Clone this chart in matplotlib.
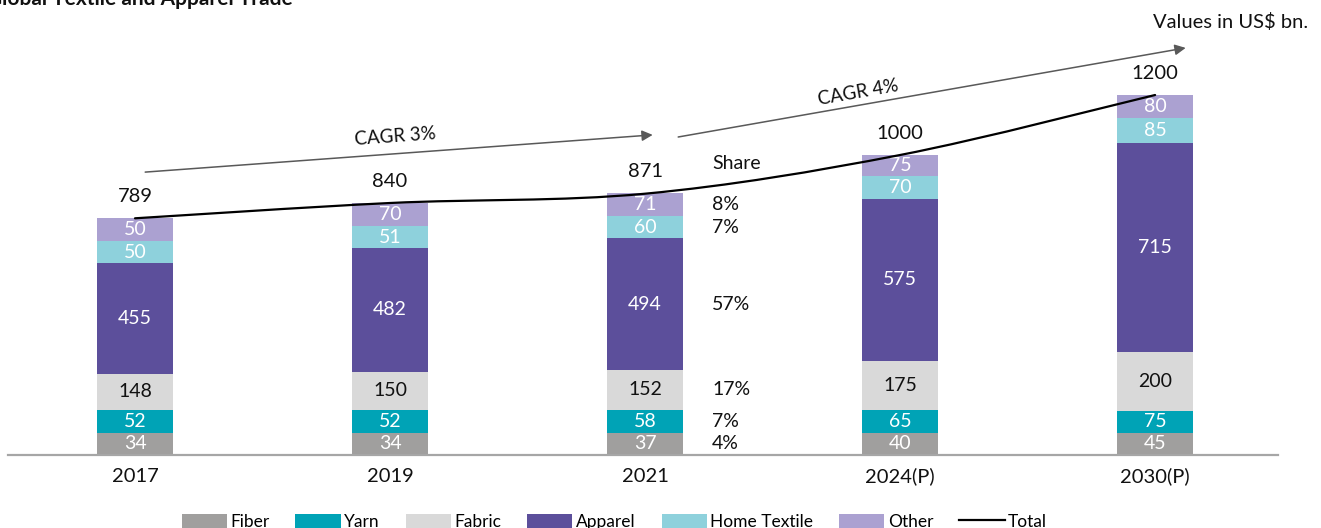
import matplotlib
matplotlib.use("Agg")
import matplotlib.pyplot as plt
from matplotlib.patches import Patch, PathPatch
from matplotlib.path import Path
from matplotlib.lines import Line2D
import numpy as np

plt.rcParams['font.family'] = ['Lato', 'DejaVu Sans']

years = ["2017", "2019", "2021", "2024(P)", "2030(P)"]
fiber = [34, 34, 37, 40, 45]
yarn = [52, 52, 58, 65, 75]
fabric = [148, 150, 152, 175, 200]
apparel = [455, 482, 494, 575, 715]
home_textile = [50, 51, 60, 70, 85]
other = [50, 70, 71, 75, 80]
totals = [789, 840, 871, 1000, 1200]
share_2021 = ["4%", "7%", "17%", "57%", "7%", "8%"]

series_names = ["Fiber", "Yarn", "Fabric", "Apparel", "Home Textile", "Other"]
series = [fiber, yarn, fabric, apparel, home_textile, other]
colors = ["#a09f9e", "#00a3b6", "#d9d9d9", "#5c4f9b", "#8ed1dc", "#aba1d1"]
label_colors = ["white", "white", "#111111", "white", "white", "white"]

# As in the original graphic, each bar keeps its true total height, but small
# segments are given a minimum display height so their labels stay legible;
# the difference is taken proportionally from the large segments.
MIN_SEG = 75.0
vals = np.array(series, dtype=float)          # shape (segments, years)
disp = vals.copy()
small = vals < MIN_SEG
disp[small] = MIN_SEG
for j in range(vals.shape[1]):
    big = ~small[:, j]
    extra = disp[:, j].sum() - vals[:, j].sum()
    disp[big, j] = vals[big, j] * (vals[big, j].sum() - extra) / vals[big, j].sum()

W, H = 1321, 528
fig = plt.figure(figsize=(W / 100, H / 100), dpi=100)
ax = fig.add_axes([8 / W, 73 / H, 1270 / W, 420 / H])

x = np.arange(len(years))
bw = 0.298
bottom = np.zeros(len(years))
for i, (col, lc) in enumerate(zip(colors, label_colors)):
    ax.bar(x, disp[i], bw, bottom=bottom, color=col, edgecolor='none', zorder=2)
    for xi, b, d, v in zip(x, bottom, disp[i], vals[i]):
        ax.text(xi, b + d / 2, f"{int(v)}", ha='center', va='center',
                fontsize=14, color=lc, zorder=3)
    bottom += disp[i]

# Total line, smoothed (Catmull-Rom curve through the data points)
pts = np.column_stack([x, np.array(totals, dtype=float)])
ext = np.vstack([pts[0], pts, pts[-1]])
verts = [tuple(pts[0])]
codes = [Path.MOVETO]
for k in range(len(pts) - 1):
    p0, p1, p2, p3 = ext[k], ext[k + 1], ext[k + 2], ext[k + 3]
    c1 = p1 + (p2 - p0) / 6.0
    c2 = p2 - (p3 - p1) / 6.0
    verts += [tuple(c1), tuple(c2), tuple(p2)]
    codes += [Path.CURVE4] * 3
ax.add_patch(PathPatch(Path(verts, codes), facecolor='none', edgecolor='black',
                       lw=1.6, zorder=4, capstyle='round'))
for xi, t in zip(x, totals):
    ax.annotate(f"{t}", (xi, t), xytext=(0, 22), textcoords='offset pixels',
                ha='center', va='center', fontsize=14.5, color='#111111')

# Share column next to 2021
share_x = 2 + 0.263
b = 0.0
for s, d in zip(share_2021, disp[:, 2]):
    ax.text(share_x, b + d / 2, s, ha='left', va='center', fontsize=14, color='#111111')
    b += d
ax.text(share_x, 973, "Share", ha='left', va='center', fontsize=14, color='#111111')

# CAGR arrows
arrow_kw = dict(arrowstyle='-|>', color='#595959', lw=1.1, mutation_scale=16,
                shrinkA=0, shrinkB=0)
ax.annotate("", xy=(2.03, 1067), xytext=(0.04, 943), arrowprops=arrow_kw)
ax.annotate("", xy=(4.12, 1357), xytext=(2.13, 1060), arrowprops=arrow_kw)
ax.text(1.02, 1060, "CAGR 3%", ha='center', va='center', rotation=4.2,
        rotation_mode='anchor', fontsize=13.5, color='#111111')
ax.text(2.835, 1207, "CAGR 4%", ha='center', va='center', rotation=10,
        rotation_mode='anchor', fontsize=13.5, color='#111111')

ax.set_xlim(-0.498, 4.482)
ax.set_ylim(0, 1400)
ax.set_xticks(x)
ax.set_xticklabels(years, fontsize=14.5, color='#111111')
ax.tick_params(axis='x', length=0, pad=9)
ax.set_yticks([])
for sp in ['top', 'left', 'right']:
    ax.spines[sp].set_visible(False)
ax.spines['bottom'].set_color('#a6a6a6')
ax.spines['bottom'].set_linewidth(1.6)

fig.text(1308 / W, 1 - 22 / H, "Values in US$ bn.", ha='right', va='center',
         fontsize=14.5, color='#111111')
fig.text(-13 / W, 1 - 5 / H, "Global Textile and Apparel Trade", ha='left',
         va='baseline', fontsize=15, fontweight='bold', color='#111111')

handles = [Patch(facecolor=c, edgecolor='none') for c in colors]
handles.append(Line2D([0], [0], color='black', lw=1.6))
fig.legend(handles, series_names + ["Total"], loc='center', ncol=7,
           bbox_to_anchor=(0.465, 0.012), frameon=False, fontsize=12.5,
           handlelength=2.6, handleheight=0.9, handletextpad=0.2,
           columnspacing=1.5)

fig.savefig("out.png", dpi=100)
